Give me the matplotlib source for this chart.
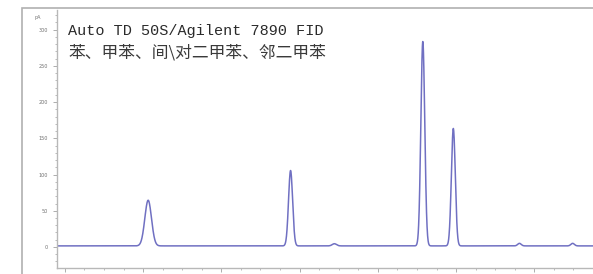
import numpy as np
import matplotlib.pyplot as plt
from matplotlib.patches import Rectangle
from matplotlib.ticker import MultipleLocator

# peak table (retention time min, height pA, width min)
peak_rt = [14.13, 17.77, 18.89, 21.15, 21.93, 23.62, 24.98]
peak_height = [63, 104, 3, 282, 162, 3.5, 3.5]
peak_width = [0.085, 0.052, 0.055, 0.05, 0.05, 0.045, 0.045]
baseline = 1.5

title_lines = ["Auto TD 50S/Agilent 7890 FID", "苯、甲苯、间\\对二甲苯、邻二甲苯"]

t = np.linspace(11.8, 25.5, 4000)
signal = np.full_like(t, baseline)
for rt, h, w in zip(peak_rt, peak_height, peak_width):
    signal += h * np.exp(-0.5 * ((t - rt) / w) ** 2)

fig = plt.figure(figsize=(5.93, 2.74), dpi=100)
fig.patches.append(Rectangle((22 / 593, -0.1), 1.2, (274 - 8) / 274 + 0.1,
                             transform=fig.transFigure, fill=False,
                             edgecolor='#b0b0b0', linewidth=1.2))

ax = fig.add_axes([57 / 593, 6 / 274, 1 - 57 / 593, (266 - 8) / 274])
ax.plot(t, signal, color='#7070c2', linewidth=1.1)

ax.set_xlim(11.8, 25.5)
ax.set_ylim(-29, 327)
ax.xaxis.set_major_locator(MultipleLocator(2))
ax.xaxis.set_minor_locator(MultipleLocator(0.5))
ax.yaxis.set_major_locator(MultipleLocator(50))
ax.yaxis.set_minor_locator(MultipleLocator(10))
ax.set_yticks(range(0, 301, 50))

for s in ['top', 'right']:
    ax.spines[s].set_visible(False)
for s in ['left', 'bottom']:
    ax.spines[s].set_color('#b8b8b8')
    ax.spines[s].set_linewidth(1.0)
ax.tick_params(which='both', colors='#a0a0a0', labelsize=3.5, labelcolor='#707070')
ax.tick_params(which='major', length=3, width=0.6)
ax.tick_params(which='minor', length=1.5, width=0.5)

ax.text(-0.03, 0.97, "pA", transform=ax.transAxes, fontsize=3.5,
        color='#707070', ha='right', va='center')

ax.text(0.021, 0.918, title_lines[0], transform=ax.transAxes, fontsize=10.9,
        family=['Liberation Mono', 'Noto Sans CJK SC'], color='#2a2a2a', va='center')
ax.text(0.021, 0.835, title_lines[1], transform=ax.transAxes, fontsize=12.1,
        family=['Noto Sans CJK SC', 'DejaVu Sans'], color='#3a3a3a', va='center',
        fontweight='light')

fig.savefig('out.png', dpi=100)
